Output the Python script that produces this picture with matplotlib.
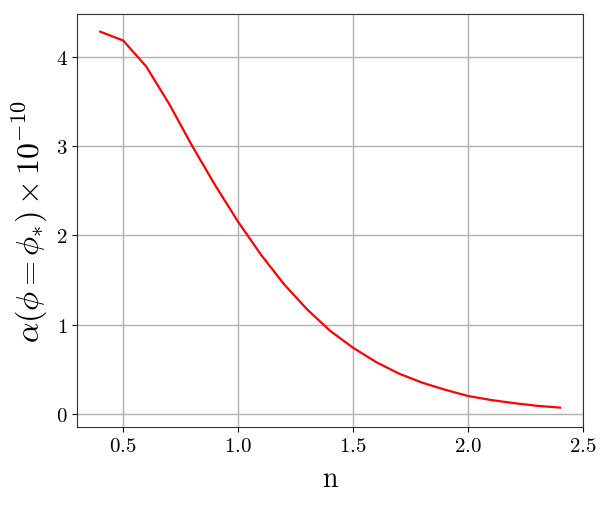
import matplotlib
matplotlib.use("Agg")
import matplotlib.pyplot as plt
import numpy as np

# Datos
n = [0.4, 0.5, 0.6, 0.7, 0.8, 0.9, 1.0, 1.1, 1.2, 1.3, 1.4,
     1.5, 1.6, 1.7, 1.8, 1.9, 2.0, 2.1, 2.2, 2.3, 2.4]
alpha = [4.28, 4.18, 3.89, 3.47, 3.00, 2.56, 2.15, 1.78, 1.45, 1.17, 0.93,
         0.74, 0.58, 0.45, 0.35, 0.27, 0.20, 0.155, 0.12, 0.09, 0.07]

xticks = [0.5, 1.0, 1.5, 2.0, 2.5]
yticks = [0, 1, 2, 3, 4]

plt.rcParams['mathtext.fontset'] = 'cm'
plt.rcParams['font.family'] = 'serif'
plt.rcParams['font.serif'] = ['cmr10', 'DejaVu Serif']
plt.rcParams['axes.formatter.use_mathtext'] = True

fig = plt.figure(figsize=(6.13, 5.1), dpi=100)
ax = fig.add_axes([0.126, 0.161, 0.825, 0.81])

ax.plot(n, alpha, color='red', linewidth=1.6)

ax.set_xlim(0.3, 2.5)
ax.set_ylim(-0.146, 4.48)
ax.set_xticks(xticks)
ax.set_xticklabels([f'${t:.1f}$' for t in xticks], fontsize=15)
ax.set_yticks(yticks)
ax.set_yticklabels([f'${t}$' for t in yticks], fontsize=15)
ax.grid(True, color='#b0b0b0', linewidth=1)
ax.set_axisbelow(True)
for s in ax.spines.values():
    s.set_color('#333333')

ax.set_xlabel('n', fontsize=20, labelpad=8)
ax.set_ylabel(r'$\alpha(\phi=\phi_{*})\times10^{-10}$', fontsize=23, labelpad=4)

fig.savefig('out.png', dpi=100)
